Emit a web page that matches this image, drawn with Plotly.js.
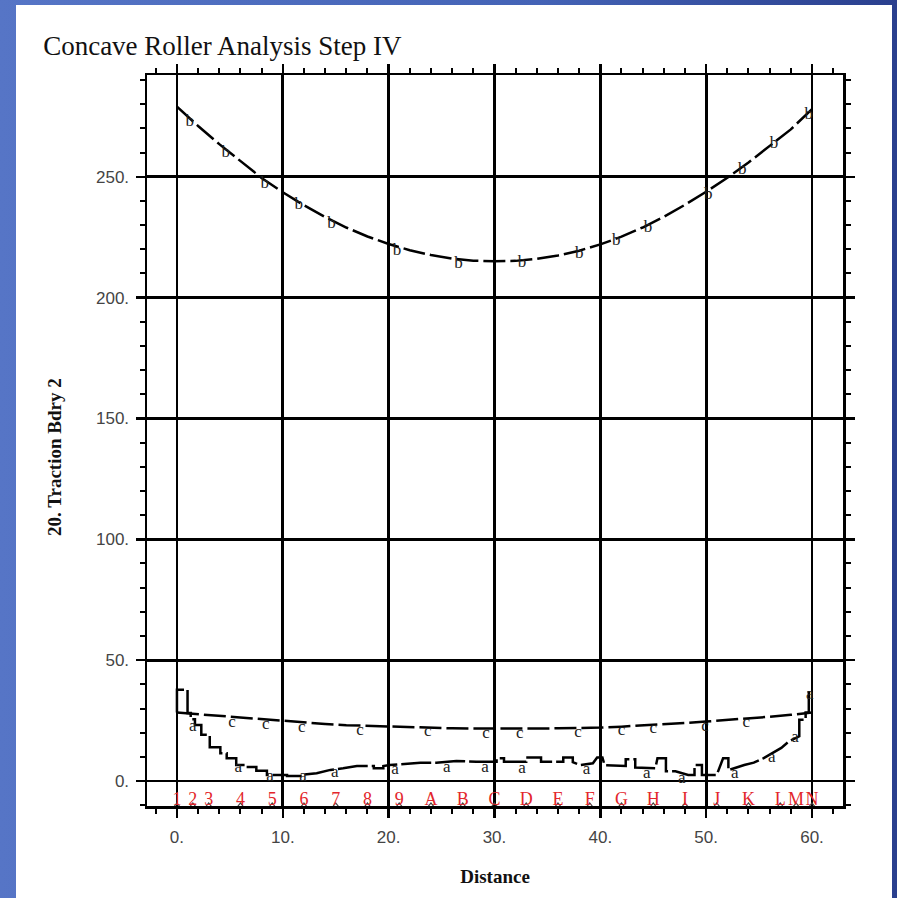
<!DOCTYPE html>
<html>
<head>
<meta charset="utf-8">
<script src="https://cdn.plot.ly/plotly-3.0.1.min.js"></script>
<style>
  html, body { margin: 0; padding: 0; width: 897px; height: 898px; overflow: hidden;
    background: linear-gradient(to right, #5675c6 0%, #4463b6 60%, #2a3f8e 100%); }
  #plot { position: absolute; left: 16px; top: 5px; width: 876px; height: 893px; background: #fff; }
</style>
</head>
<body>
<div id="plot"></div>
<script>
// ---- data ----
const bX = [0,2,4,6,8,10,12,14,16,18,20,22,24,26,28,30,32,34,36,38,40,42,44,46,48,50,52,54,56,58,60];
const bY = [279.0,271.0,263.5,256.3,249.5,243.6,238.2,233.3,229.0,225.3,222.2,219.6,217.6,216.1,215.3,215.0,
            215.2,216.0,217.4,219.4,222.0,225.2,229.0,233.4,238.4,243.8,249.6,255.9,262.6,269.6,278.0];

const cX = [0,2,4,6,8,10,12,14,16,18,20,22,24,26,28,30,32,34,36,38,40,42,44,46,48,50,52,54,56,58,60];
const cY = [28.3,27.6,26.9,26.2,25.6,24.8,24.2,23.6,23.1,22.8,22.5,22.2,22.0,21.8,21.7,21.6,
            21.6,21.7,21.8,21.9,22.1,22.5,22.9,23.4,24.0,24.6,25.2,25.8,26.6,27.4,28.3];

const aX = [0,0,1.0,1.0,1.3,1.3,1.7,1.7,2.3,2.3,3.1,3.1,4.1,4.1,4.7,4.7,5.6,5.6,6.7,6.7,7.5,7.5,8.5,8.5,
            10.4,10.4,11.9,11.9,13.2,14.5,15.7,17.0,18.6,18.6,19.5,19.5,20.1,23.0,24.5,26.4,28.3,30.2,
            30.2,30.9,30.9,33.0,33.0,34.4,34.4,36.5,36.5,37.4,37.4,38.1,39.3,39.7,40.2,40.4,42.4,42.4,
            43.3,43.3,45.2,45.4,46.2,46.2,47.1,48.3,48.9,48.9,49.6,49.6,51.0,51.6,52.1,52.1,53.6,54.5,
            55.4,57.1,57.8,58.8,58.8,59.4,59.4,59.7,59.7,59.9];
const aY = [28.3,37.8,37.8,28.1,28.1,25.5,25.5,23.2,23.2,19.1,19.1,14.0,14.0,11.5,11.5,9.4,9.4,6.6,6.6,5.8,5.8,4.2,4.2,2.5,
            2.5,2.1,2.1,2.6,3.2,4.6,5.3,6.2,6.2,5.3,5.3,6.2,6.6,7.6,7.6,8.3,8.0,8.0,
            9.4,9.4,8.0,8.0,9.7,9.7,8.0,8.0,9.7,9.7,7.8,6.6,7.3,9.7,9.7,6.6,6.2,9.0,
            9.0,5.6,5.3,9.4,9.4,4.0,4.0,2.5,2.5,6.6,6.6,2.5,2.5,9.4,9.4,4.5,6.6,7.6,
            9.4,13.7,16.3,18.5,25.3,25.3,28.3,28.3,37.8,37.8];

// curve letter labels
const bLabX = [1.2,4.6,8.3,11.5,14.6,20.8,26.6,32.6,38.0,41.5,44.5,50.2,53.4,56.4,59.7];
const bLabY = [272.9,259.8,247.3,238.3,230.4,219.2,214.1,214.5,218.3,223.4,228.9,242.7,253.1,263.5,275.6];
const cLabX = [5.2,8.4,11.8,17.3,23.7,29.2,32.4,37.9,42.0,45.0,49.9,53.8];
const cLabY = [24.3,23.2,22.1,20.9,20.5,19.5,19.5,20.0,20.9,21.5,22.5,24.2];
const aLabX = [1.5,5.8,8.8,11.9,14.9,20.6,25.5,29.1,32.6,38.7,44.4,47.7,52.7,56.2,58.4,59.8];
const aLabY = [22.5,5.4,1.7,1.7,3.3,4.6,5.4,5.6,5.2,4.8,3.2,1.1,2.8,9.8,18.0,35.5];

// node labels along the bottom
const nodeX = [0,1.5,3,6,9,12,15,18,21,24,27,30,33,36,39,42,45,48,51,54,57,58.5,60];
const nodeText = ["1","2","3","4","5","6","7","8","9","A","B","C","D","E","F","G","H","I","J","K","L","M","N"];
const nodeY = nodeX.map(() => -8.1);
const nodeMarkY = nodeX.map(() => -10.3);

const xTickVals = [0,10,20,30,40,50,60];
const xTickText = ["0.","10.","20.","30.","40.","50.","60."];
const yTickVals = [0,50,100,150,200,250];
const yTickText = ["0.","50.","100.","150.","200.","250."];

// ---- chart ----
const lineStyle = {color: "#000", width: 2.5, dash: "22px,5px"};
const letterFont = {family: "Liberation Serif, Times New Roman, serif", size: 17, color: "#222"};

const traces = [
  {x: bX, y: bY, mode: "lines", line: lineStyle, hoverinfo: "skip"},
  {x: cX, y: cY, mode: "lines", line: lineStyle, hoverinfo: "skip"},
  {x: aX, y: aY, mode: "lines", line: Object.assign({}, lineStyle, {dash: "30px,4px"}), hoverinfo: "skip"},
  {x: bLabX, y: bLabY, mode: "text", text: bLabX.map(() => "b"), textfont: letterFont, textposition: "middle center"},
  {x: cLabX, y: cLabY, mode: "text", text: cLabX.map(() => "c"), textfont: letterFont, textposition: "middle center"},
  {x: aLabX, y: aLabY, mode: "text", text: aLabX.map(() => "a"), textfont: letterFont, textposition: "middle center"},
  {x: nodeX, y: nodeMarkY, mode: "markers", cliponaxis: false,
   marker: {symbol: "triangle-up-open", size: 6, color: "#444", line: {width: 1.2, color: "#444"}}},
  {x: nodeX, y: nodeY, mode: "text", text: nodeText, cliponaxis: false, textposition: "middle center",
   textfont: {family: "Liberation Serif, Times New Roman, serif", size: 18, color: "#e3262b"}}
];

const axisCommon = {
  ticks: "outside", ticklen: 9, tickwidth: 2.5, tickcolor: "#000",
  showline: true, linecolor: "#000", linewidth: 2.5, mirror: "allticks",
  showgrid: true, gridcolor: "#000", gridwidth: 2.8, zeroline: false,
  tickfont: {family: "Liberation Sans, Arial, sans-serif", size: 17, color: "#444"},
  fixedrange: true
};

const layout = {
  width: 876, height: 893,
  paper_bgcolor: "#fff", plot_bgcolor: "#fff",
  showlegend: false,
  margin: {l: 131, r: 49, t: 70, b: 92},
  title: {text: "Concave Roller Analysis Step IV", xref: "container", yref: "container",
          x: 0.031, xanchor: "left", y: 0.955, yanchor: "middle",
          font: {family: "Liberation Serif, Times New Roman, serif", size: 27, color: "#111"}},
  xaxis: Object.assign({}, axisCommon, {
    range: [-2.83, 62.93], tickmode: "array", tickvals: xTickVals, ticktext: xTickText,
    ticklabelstandoff: 5,
    minor: {tickmode: "linear", tick0: 0, dtick: 2, ticks: "outside", ticklen: 5, tickwidth: 2, tickcolor: "#000", showgrid: false},
    title: {text: "<b>Distance</b>", standoff: 24,
            font: {family: "Liberation Serif, Times New Roman, serif", size: 19, color: "#111"}}
  }),
  yaxis: Object.assign({}, axisCommon, {
    range: [-10.34, 292.1], tickmode: "array", tickvals: yTickVals, ticktext: yTickText,
    ticklabelstandoff: 3,
    minor: {tickmode: "linear", tick0: 0, dtick: 10, ticks: "outside", ticklen: 5, tickwidth: 2, tickcolor: "#000", showgrid: false},
    title: {text: "<b>20. Traction Bdry 2</b>&nbsp;&nbsp;&nbsp;&nbsp;&nbsp;&nbsp;&nbsp;", standoff: 30,
            font: {family: "Liberation Serif, Times New Roman, serif", size: 19, color: "#111"}}
  })
};

Plotly.newPlot("plot", traces, layout, {staticPlot: true, displayModeBar: false});
</script>
</body>
</html>
